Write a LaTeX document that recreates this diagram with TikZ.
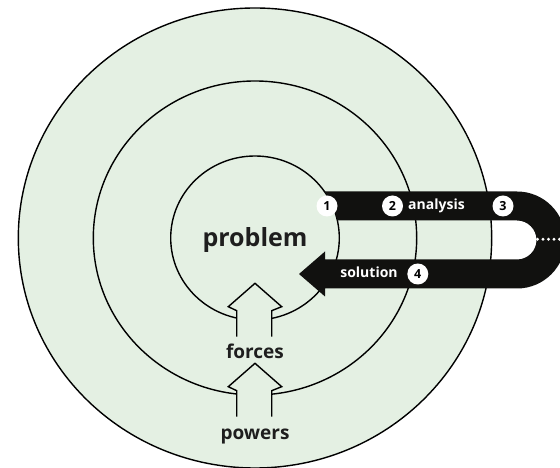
\documentclass[tikz,border=0pt]{standalone}
\usepackage{fontspec}
\setmainfont{Open Sans}
\definecolor{bggreen}{RGB}{228,240,227}
\definecolor{textdark}{RGB}{30,30,30}
\definecolor{bandblack}{RGB}{17,17,15}
\begin{document}
\begin{tikzpicture}[x=1pt,y=1pt,
  ring/.style={fill=bggreen, draw=black, line width=1.4pt},
  badge/.style={circle, fill=white, inner sep=0pt, minimum size=21pt, text=black,
    font=\bfseries\fontsize{12.5}{12.5}\selectfont},
  bandtxt/.style={text=white, anchor=base, inner sep=0pt, font=\bfseries\fontsize{14}{14}\selectfont},
  bigtxt/.style={text=textdark, anchor=base, inner sep=0pt, font=\bfseries\fontsize{19}{19}\selectfont},
  hollowfill/.style={fill=bggreen, draw=none},
  outl/.style={draw=black, line width=1.4pt, line join=miter}]
\clip (0,0) rectangle (560,468);
% rings
\draw[ring] (255,230) ellipse [x radius=236.7, y radius=230];
\draw[ring] (255,230) ellipse [x radius=161.7, y radius=157];
\draw[ring] (255,230) ellipse [x radius=84.3, y radius=82];
% black U-shaped band with arrow head
\fill[bandblack] (324.5,276.5) -- (517,276.5) arc[start angle=90, end angle=-90, radius=48.5]
  -- (325,179.5) -- (325,171.5) -- (299,194) -- (325,216.5) -- (325,208.5)
  -- (517,208.5) arc[start angle=-90, end angle=90, radius=19.5]
  -- (337.4,247.5) arc[start angle=12.3, end angle=34.5, x radius=84.3, y radius=82] -- cycle;
% dots
\foreach \x in {537.5,543,548.5,554,559.5} \fill[white] (\x,228.7) circle (1.7);
% badges and band labels
\node[badge] (b1) at (327,262) {1};
\node[badge] (b2) at (392.5,262) {2};
\node[badge] (b3) at (503,262) {3};
\node[badge] (b4) at (417.8,194) {4};
\node[bandtxt] (analysis) at (436.5,258) {analysis};
\node[bandtxt] (solution) at (369,190.7) {solution};
% hollow arrows
\fill[hollowfill] (236.7,131.3) -- (236.7,157.3) -- (228.3,161.3) -- (255,184.7) -- (281.7,161.3) -- (271.7,157.3) -- (271.7,131.3) -- cycle;
\draw[outl] (236.7,131.3) -- (236.7,157.3) -- (228.3,161.3) -- (255,184.7) -- (281.7,161.3) -- (271.7,157.3) -- (271.7,131.3);
\fill[hollowfill] (236.7,51.3) -- (236.7,77.3) -- (228.3,81.3) -- (255,104.7) -- (281.7,81.3) -- (271.7,77.3) -- (271.7,51.3) -- cycle;
\draw[outl] (236.7,51.3) -- (236.7,77.3) -- (228.3,81.3) -- (255,104.7) -- (281.7,81.3) -- (271.7,77.3) -- (271.7,51.3);
% labels
\node[text=textdark, anchor=base, inner sep=0pt, font=\bfseries\fontsize{25}{25}\selectfont] (problem) at (255,221) {problem};
\node[bigtxt] (forces) at (255,109.7) {forces};
\node[bigtxt] (powers) at (255,28.7) {powers};
\end{tikzpicture}
\end{document}
